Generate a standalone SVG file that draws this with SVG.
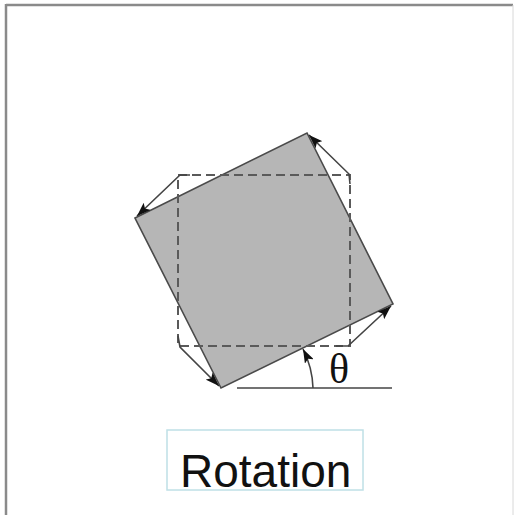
<svg xmlns="http://www.w3.org/2000/svg" width="517" height="515" viewBox="0 0 517 515">
<style>
.frame{fill:none;stroke:#8a8a8a}
.rot{fill:#b6b6b6;stroke:#4a4a4a;stroke-width:1.6}
.dash{fill:none;stroke:#5a5a5a;stroke-width:2;stroke-dasharray:9 5}
.conn{fill:none;stroke:#444;stroke-width:1.6}
.lbl{fill:none;stroke:#bfe0e6;stroke-width:1.5}
.t{font-family:"Liberation Sans",Arial,sans-serif;font-size:46px;fill:#111}
.th{font-family:"Liberation Serif","Times New Roman",serif;font-size:42px;fill:#111}
</style>
<defs>
<marker id="ah" viewBox="0 0 14 10" refX="14" refY="5" markerWidth="14" markerHeight="10" markerUnits="userSpaceOnUse" orient="auto">
<path d="M0,0 L14,5 L0,10 L3,5 Z" fill="#111"/>
</marker>
</defs>
<rect width="517" height="515" fill="#fff"/>
<g id="frame">
<line class="frame" x1="6" y1="5" x2="513" y2="5" stroke-width="2.5"/>
<line class="frame" x1="6" y1="4" x2="6" y2="515" stroke-width="2.5"/>
<line x1="513" y1="5" x2="513" y2="515" stroke="#d8d8d8" stroke-width="1"/>
</g>
<g id="rotated-square">
<polygon class="rot" points="135,218 307,133 393,304 221,388"/>
</g>
<g id="original-square">
<rect class="dash" x="178" y="175" width="172" height="171"/>
</g>
<g id="connectors">
<polyline class="conn" points="190,175 180,175 137,216" marker-end="url(#ah)"/>
<polyline class="conn" points="350,184 349,174 309,135" marker-end="url(#ah)"/>
<polyline class="conn" points="336,346 348,346 391,306" marker-end="url(#ah)"/>
<polyline class="conn" points="178,336 180,347 219,386" marker-end="url(#ah)"/>
<line class="conn" x1="237" y1="388" x2="392" y2="388" stroke="#555"/>
<path class="conn" d="M313,388 A92,92 0 0 0 303,349" marker-end="url(#ah)"/>
</g>
<g id="theta">
<text class="th" x="329" y="383">θ</text>
</g>
<g id="label">
<rect class="lbl" x="167" y="430" width="196" height="60"/>
<text class="t" x="180" y="487">Rotation</text>
</g>
</svg>
